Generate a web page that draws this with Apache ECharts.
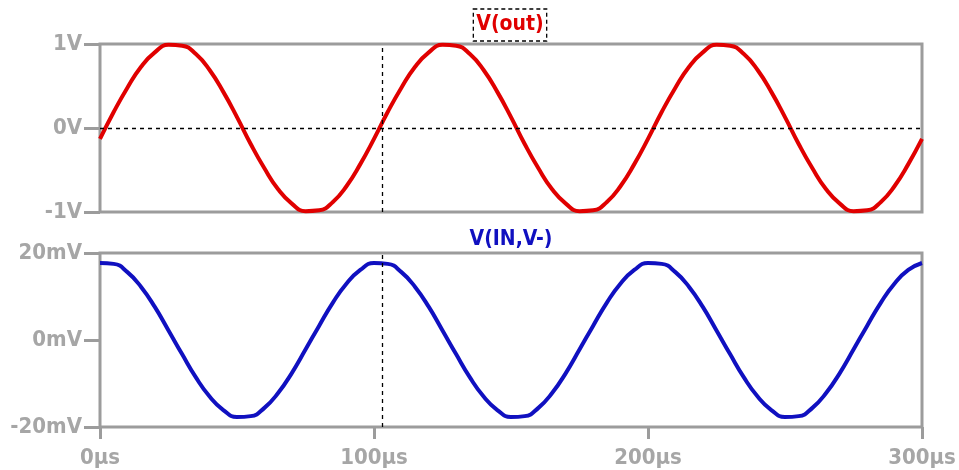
<!DOCTYPE html>
<html><head><meta charset="utf-8">
<script src="https://cdn.jsdelivr.net/npm/echarts@6/dist/echarts.min.js"></script>
<style>html,body{margin:0;padding:0;background:#fff}#c{width:959px;height:470px}</style>
</head><body><div id="c"></div>
<script>
// time samples (µs)
const timeUs = [0,5,10,15,20,25,30,35,40,45,50,55,60,65,70,75,80,85,90,95,100,
  105,110,115,120,125,130,135,140,145,150,155,160,165,170,175,180,185,190,195,200,
  205,210,215,220,225,230,235,240,245,250,255,260,265,270,275,280,285,290,295,300];
// V(out) in volts
const vOut = [-0.13,0.19,0.48,0.73,0.90,0.99,0.98,0.88,0.69,0.43,0.13,-0.19,-0.48,-0.73,-0.90,-0.99,-0.98,-0.88,-0.69,-0.43,-0.13,
  0.19,0.48,0.73,0.90,0.99,0.98,0.88,0.69,0.43,0.13,-0.19,-0.48,-0.73,-0.90,-0.99,-0.98,-0.88,-0.69,-0.43,-0.13,
  0.19,0.48,0.73,0.90,0.99,0.98,0.88,0.69,0.43,0.13,-0.19,-0.48,-0.73,-0.90,-0.99,-0.98,-0.88,-0.69,-0.43,-0.13];
// V(IN,V-) in mV
const vIn = [17.7,17.5,15.6,12.2,7.6,2.2,-3.3,-8.6,-13.0,-16.1,-17.7,-17.5,-15.6,-12.2,-7.6,-2.2,3.3,8.6,13.0,16.1,17.7,
  17.5,15.6,12.2,7.6,2.2,-3.3,-8.6,-13.0,-16.1,-17.7,-17.5,-15.6,-12.2,-7.6,-2.2,3.3,8.6,13.0,16.1,17.7,
  17.5,15.6,12.2,7.6,2.2,-3.3,-8.6,-13.0,-16.1,-17.7,-17.5,-15.6,-12.2,-7.6,-2.2,3.3,8.6,13.0,16.1,17.7];
const cursorUs = 103;
const titles = ['V(out)', 'V(IN,V-)'];

const gray = '#9c9c9c';
const labelFont = {color:'#a6a6a6', fontFamily:'DejaVu Sans Condensed', fontWeight:'bold', fontSize:22};
const chart = echarts.init(document.getElementById('c'), null, {renderer:'canvas'});
const pairs = (ys) => timeUs.map((t,i)=>[t, ys[i]]);
const cursorLine = {
  symbol:'none', silent:true, label:{show:false},
  lineStyle:{color:'#000', type:[4,4], width:1.3}
};
chart.setOption({
  animation:false,
  title:[
    {text:'{b|' + titles[0] + '}', left:510, textAlign:'center', top:14, padding:0,
     textStyle:{rich:{b:{color:'#e00000', fontFamily:'DejaVu Sans Condensed', fontWeight:'bold', fontSize:21,
       borderColor:'#000', borderWidth:1.3, borderType:[4,3], padding:[5,3,6,3], lineHeight:22}}}},
    {text:titles[1], left:511, textAlign:'center', top:229, padding:0,
     textStyle:{color:'#1010c0', fontFamily:'DejaVu Sans Condensed', fontWeight:'bold', fontSize:21}}
  ],
  grid:[
    {left:100, right:37, top:44, height:168, show:true, borderColor:gray, borderWidth:3},
    {left:100, right:37, top:253, height:174, show:true, borderColor:gray, borderWidth:3}
  ],
  xAxis:[
    {gridIndex:0, type:'value', min:0, max:300, interval:100,
     axisLine:{show:false, onZero:false}, axisTick:{show:false}, axisLabel:{show:false}, splitLine:{show:false}},
    {gridIndex:1, type:'value', min:0, max:300, interval:100,
     axisLine:{show:false, onZero:false}, axisTick:{show:true, inside:false, length:12, lineStyle:{color:gray, width:3}},
     axisLabel:Object.assign({margin:20, formatter:v=>v+'µs'}, labelFont), splitLine:{show:false}}
  ],
  yAxis:[
    {gridIndex:0, type:'value', min:-1, max:1, interval:1,
     axisLine:{show:false, onZero:false}, axisTick:{show:true, length:16, lineStyle:{color:gray, width:3}},
     axisLabel:Object.assign({margin:18, formatter:v=>v+'V'}, labelFont), splitLine:{show:false}},
    {gridIndex:1, type:'value', min:-20, max:20, interval:20,
     axisLine:{show:false, onZero:false}, axisTick:{show:true, length:16, lineStyle:{color:gray, width:3}},
     axisLabel:Object.assign({margin:18, formatter:v=>v+'mV'}, labelFont), splitLine:{show:false}}
  ],
  series:[
    {type:'line', xAxisIndex:0, yAxisIndex:0, data:pairs(vOut), smooth:0.5, showSymbol:false,
     lineStyle:{color:'#e00000', width:4}, z:3,
     markLine:Object.assign({data:[{yAxis:0},{xAxis:cursorUs}]}, cursorLine)},
    {type:'line', xAxisIndex:1, yAxisIndex:1, data:pairs(vIn), smooth:0.5, showSymbol:false,
     lineStyle:{color:'#1010c0', width:4}, z:3,
     markLine:Object.assign({data:[{xAxis:cursorUs}]}, cursorLine)}
  ]
});
</script></body></html>
